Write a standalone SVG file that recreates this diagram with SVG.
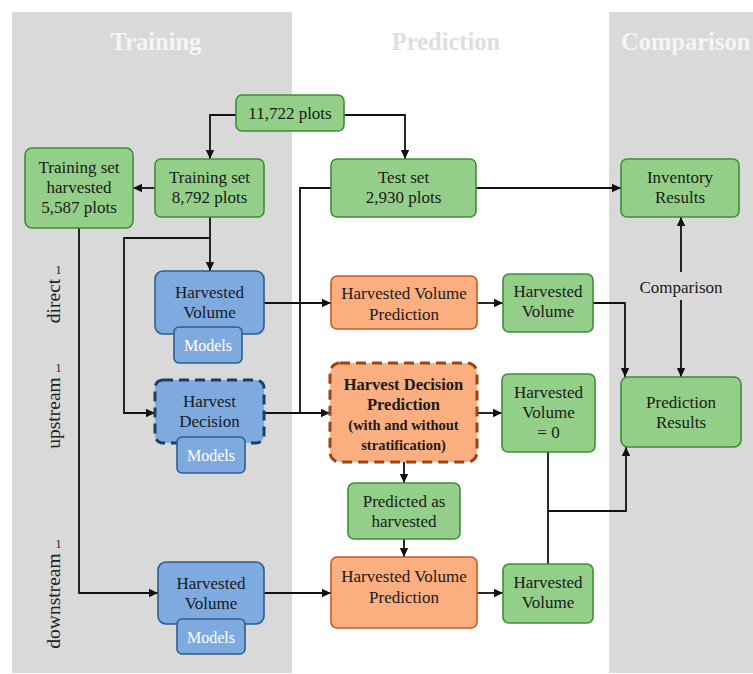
<svg xmlns="http://www.w3.org/2000/svg" width="753" height="674" viewBox="0 0 753 674">
<style>
text{font-family:"Liberation Serif","Times New Roman",serif;fill:#1a1a1a;font-size:17px;text-anchor:middle}
.hd{font-size:24.5px;font-weight:bold;fill:#f5f5f5}
.g{fill:#93cf88;stroke:#3e8e35;stroke-width:1.6}
.o{fill:#fbae80;stroke:#c55a1e;stroke-width:1.6}
.od{fill:#fbae80;stroke:#9c4510;stroke-width:3;stroke-dasharray:10 6}
.b{fill:#7eaadf;stroke:#2d5d8e;stroke-width:1.6}
.bd{fill:#7eaadf;stroke:#1c3e68;stroke-width:3;stroke-dasharray:10 6}
.m{fill:#fff;font-size:16px}
.bo{font-weight:bold}
.sm{font-size:14.5px;font-weight:bold}
.side{font-size:19.5px;fill:#222}
.sup{font-size:12px;fill:#222}
#connectors path{fill:none;stroke:#111;stroke-width:1.8}
</style>
<defs>
<marker id="ah" markerUnits="userSpaceOnUse" markerWidth="10" markerHeight="10" refX="9" refY="5" orient="auto">
<path d="M0,0.8 L9,5 L0,9.2 Z" fill="#111"/>
</marker>
</defs>
<rect x="12" y="12" width="280" height="661" fill="#d9d9d9"/>
<rect x="609" y="12" width="144" height="661" fill="#d9d9d9"/>
<text class="hd" x="156" y="50">Training</text>
<text class="hd" x="446" y="50" style="fill:#dedede">Prediction</text>
<text class="hd" x="621" y="50" style="text-anchor:start">Comparison</text>

<g id="side-labels">
<text class="side" transform="translate(59.5,301) rotate(-90)">direct</text>
<text class="sup" x="58.5" y="274">1</text>
<text class="side" transform="translate(59.5,413) rotate(-90)">upstream</text>
<text class="sup" x="58.5" y="372">1</text>
<text class="side" transform="translate(59.5,601) rotate(-90)">downstream</text>
<text class="sup" x="58.5" y="548">1</text>
</g>

<g id="connectors">
<path d="M236,115 H210 V159" marker-end="url(#ah)"/>
<path d="M344,115 H405 V159" marker-end="url(#ah)"/>
<path d="M155,188 H133" marker-end="url(#ah)"/>
<path d="M476,188 H621" marker-end="url(#ah)"/>
<path d="M331,188 H300 V413 H330" marker-end="url(#ah)"/>
<path d="M265,413 H300"/>
<path d="M210,217 V271" marker-end="url(#ah)"/>
<path d="M210,238 H124 V413 H155" marker-end="url(#ah)"/>
<path d="M79,228 V593 H158" marker-end="url(#ah)"/>
<path d="M264,303 H331" marker-end="url(#ah)"/>
<path d="M477,303 H503" marker-end="url(#ah)"/>
<path d="M593,303 H625 V377" marker-end="url(#ah)"/>
<path d="M681,272 V217" marker-end="url(#ah)"/>
<path d="M681,300 V377" marker-end="url(#ah)"/>
<path d="M477,413 H502" marker-end="url(#ah)"/>
<path d="M404,462 V483" marker-end="url(#ah)"/>
<path d="M404,539 V557" marker-end="url(#ah)"/>
<path d="M264,593 H331" marker-end="url(#ah)"/>
<path d="M477,593 H503" marker-end="url(#ah)"/>
<path d="M548,452 V564"/>
<path d="M548,511 H626 V447" marker-end="url(#ah)"/>
</g>
<text x="681" y="293">Comparison</text>

<g id="n-all-plots"><rect class="g" x="236" y="95" width="108" height="36" rx="6"/><text x="290" y="119">11,722 plots</text></g>
<g id="n-train-harv"><rect class="g" x="25" y="148" width="108" height="80" rx="7"/><text x="79" y="173">Training set</text><text x="79" y="193">harvested</text><text x="79" y="213">5,587 plots</text></g>
<g id="n-train"><rect class="g" x="155" y="159" width="109" height="58" rx="6"/><text x="209.5" y="183">Training set</text><text x="209.5" y="203">8,792 plots</text></g>
<g id="n-test"><rect class="g" x="331" y="159" width="145" height="58" rx="6"/><text x="403.5" y="183">Test set</text><text x="403.5" y="203">2,930 plots</text></g>
<g id="n-inventory"><rect class="g" x="621" y="159" width="118" height="58" rx="6"/><text x="680" y="183">Inventory</text><text x="680" y="203">Results</text></g>

<g id="n-hv-direct"><rect class="b" x="155" y="271" width="109" height="63" rx="8"/><text x="209.5" y="298">Harvested</text><text x="209.5" y="318">Volume</text><rect class="b" x="174" y="327" width="68" height="36" rx="5"/><text class="m" x="208" y="351">Models</text></g>
<g id="n-hd"><rect class="bd" x="155" y="380" width="109" height="63" rx="8"/><text x="209.5" y="407">Harvest</text><text x="209.5" y="427">Decision</text><rect class="b" x="177" y="437" width="68" height="36" rx="5"/><text class="m" x="211" y="461">Models</text></g>
<g id="n-hv-down"><rect class="b" x="158" y="562" width="106" height="62" rx="8"/><text x="211" y="589">Harvested</text><text x="211" y="609">Volume</text><rect class="b" x="177" y="619" width="68" height="35" rx="5"/><text class="m" x="211" y="643">Models</text></g>

<g id="n-hvp-direct"><rect class="o" x="331" y="276" width="146" height="53" rx="6"/><text x="404" y="299">Harvested Volume</text><text x="404" y="320">Prediction</text></g>
<g id="n-hdp"><rect class="od" x="330" y="363" width="147" height="99" rx="10"/><text class="bo" x="403.5" y="390" style="font-size:16.5px">Harvest Decision</text><text class="bo" x="403.5" y="410" style="font-size:16.5px">Prediction</text><text class="sm" x="403.5" y="430">(with and without</text><text class="sm" x="403.5" y="450">stratification)</text></g>
<g id="n-pred-harv"><rect class="g" x="348" y="483" width="112" height="56" rx="6"/><text x="404" y="507">Predicted as</text><text x="404" y="527">harvested</text></g>
<g id="n-hvp-down"><rect class="o" x="331" y="557" width="146" height="71" rx="6"/><text x="404" y="582">Harvested Volume</text><text x="404" y="603">Prediction</text></g>

<g id="n-hv-g-direct"><rect class="g" x="503" y="274" width="90" height="58" rx="6"/><text x="548" y="297">Harvested</text><text x="548" y="317">Volume</text></g>
<g id="n-hv-zero"><rect class="g" x="502" y="374" width="93" height="78" rx="6"/><text x="548.5" y="398">Harvested</text><text x="548.5" y="418">Volume</text><text x="548.5" y="438">= 0</text></g>
<g id="n-hv-g-down"><rect class="g" x="503" y="564" width="90" height="59" rx="6"/><text x="548" y="588">Harvested</text><text x="548" y="608">Volume</text></g>
<g id="n-pred-results"><rect class="g" x="621" y="377" width="120" height="70" rx="7"/><text x="681" y="408">Prediction</text><text x="681" y="428">Results</text></g>
</svg>
